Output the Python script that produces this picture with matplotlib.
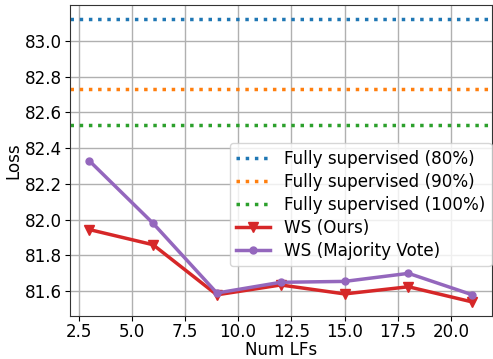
import matplotlib
matplotlib.use('Agg')
import matplotlib.pyplot as plt

num_lfs = [3, 6, 9, 12, 15, 18, 21]
ws_ours = [81.945, 81.86, 81.58, 81.635, 81.585, 81.625, 81.54]
ws_majority = [82.33, 81.98, 81.59, 81.65, 81.655, 81.70, 81.58]

full_labels = ['Fully supervised (80%)', 'Fully supervised (90%)', 'Fully supervised (100%)']
full_values = [83.12, 82.73, 82.53]
full_colors = ['tab:blue', 'tab:orange', 'tab:green']

x_ticks = [2.5, 5.0, 7.5, 10.0, 12.5, 15.0, 17.5, 20.0]
y_ticks = [81.6, 81.8, 82.0, 82.2, 82.4, 82.6, 82.8, 83.0]

plt.rcParams['font.size'] = 12.1

fig = plt.figure(figsize=(4.93, 3.59), dpi=100)
ax = fig.add_axes([0.142, 0.119, 0.855, 0.867])

for lab, val, col in zip(full_labels, full_values, full_colors):
    ax.axhline(val, linestyle=':', linewidth=2.5, color=col, label=lab)

ax.plot(num_lfs, ws_ours, color='tab:red', marker='v', markersize=7,
        linewidth=2.5, label='WS (Ours)')
ax.plot(num_lfs, ws_majority, color='tab:purple', marker='o', markersize=5,
        linewidth=2.5, label='WS (Majority Vote)')

ax.set_xlim(2.1, 21.9)
ax.set_ylim(81.46, 83.2)
ax.set_xticks(x_ticks)
ax.set_yticks(y_ticks)
ax.set_xticklabels(['%.1f' % t for t in x_ticks])
ax.set_yticklabels(['%.1f' % t for t in y_ticks])
ax.tick_params(axis='x', pad=1.5)
ax.tick_params(axis='y', pad=2)
ax.grid(True, color='#b0b0b0', linewidth=1)
for sp in ax.spines.values():
    sp.set_color('#333333')
ax.set_xlabel('Num LFs', labelpad=0)
ax.set_ylabel('Loss', labelpad=2)
ax.legend(loc='lower right', bbox_to_anchor=(1.0, 0.16), borderaxespad=0,
          handlelength=2.0, labelspacing=0.3)

fig.savefig('out.png', dpi=100)
